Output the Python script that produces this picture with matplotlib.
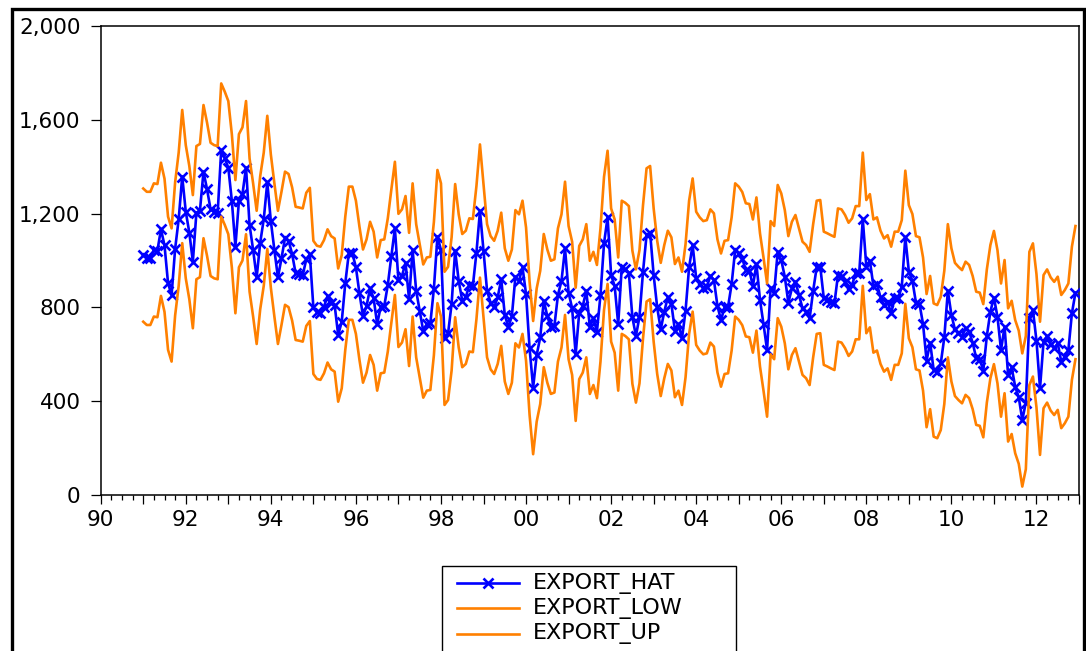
import matplotlib
matplotlib.use("Agg")
import matplotlib.pyplot as plt
from matplotlib.patches import Rectangle
from matplotlib.lines import Line2D
from matplotlib.ticker import FixedLocator, FuncFormatter

# Monthly export forecast with its lower / upper bands, Jan 1991 onwards
start_year = 1991
export_hat = [
    1023, 1009, 1009, 1045, 1042, 1133, 1065, 903, 853, 1050, 1176, 1358,
    1208, 1119, 995, 1204, 1213, 1379, 1304, 1218, 1208, 1204, 1471, 1436,
    1396, 1254, 1059, 1255, 1284, 1396, 1151, 1045, 928, 1076, 1176, 1333,
    1168, 1045, 928, 1009, 1095, 1085, 1028, 945, 942, 938, 1005, 1026,
    800, 779, 775, 803, 849, 820, 810, 682, 739, 903, 1031, 1031,
    971, 860, 763, 806, 881, 839, 729, 803, 806, 896, 1019, 1137,
    915, 934, 991, 834, 1045, 871, 785, 699, 729, 732, 880, 1102,
    1045, 668, 689, 815, 1042, 913, 829, 843, 896, 893, 1033, 1211,
    1042, 871, 820, 800, 843, 920, 768, 715, 763, 931, 913, 971,
    857, 625, 458, 597, 672, 829, 763, 715, 721, 853, 913, 1052,
    863, 796, 600, 778, 806, 871, 715, 753, 697, 853, 1073, 1184,
    938, 891, 729, 971, 962, 948, 758, 678, 760, 952, 1109, 1119,
    938, 800, 706, 782, 843, 815, 701, 729, 668, 786, 971, 1066,
    924, 900, 884, 888, 934, 917, 806, 746, 800, 803, 900, 1045,
    1031, 1008, 960, 957, 891, 985, 832, 728, 618, 884, 863, 1038,
    1002, 931, 820, 881, 910, 853, 796, 782, 753, 871, 971, 974,
    839, 832, 824, 817, 938, 934, 910, 877, 896, 948, 948, 1176,
    974, 999, 891, 900, 843, 810, 824, 775, 839, 839, 888, 1099,
    952, 914, 820, 815, 729, 573, 650, 533, 526, 561, 672, 871,
    768, 706, 689, 675, 711, 697, 650, 583, 579, 530, 678, 782,
    842, 760, 618, 718, 512, 544, 462, 417, 320, 394, 753, 789,
    658, 455, 654, 678, 644, 625, 647, 569, 590, 618, 775, 863,
]
export_low = [
    739, 725, 725, 761, 758, 849, 781, 619, 569, 766, 892, 1074,
    924, 835, 711, 920, 929, 1095, 1020, 934, 924, 920, 1187, 1152,
    1112, 970, 775, 971, 1000, 1112, 867, 761, 644, 792, 892, 1049,
    884, 761, 644, 725, 811, 801, 744, 661, 658, 654, 721, 742,
    516, 495, 491, 519, 565, 536, 526, 398, 455, 619, 747, 747,
    687, 576, 479, 522, 597, 555, 445, 519, 522, 612, 735, 853,
    631, 650, 707, 550, 761, 587, 501, 415, 445, 448, 596, 818,
    761, 384, 405, 531, 758, 629, 545, 559, 612, 609, 749, 927,
    758, 587, 536, 516, 559, 636, 484, 431, 479, 647, 629, 687,
    573, 341, 174, 313, 388, 545, 479, 431, 437, 569, 629, 768,
    579, 512, 316, 494, 522, 587, 431, 469, 413, 569, 789, 900,
    654, 607, 445, 687, 678, 664, 474, 394, 476, 668, 825, 835,
    654, 516, 422, 498, 559, 531, 417, 445, 384, 502, 687, 782,
    640, 616, 600, 604, 650, 633, 522, 462, 516, 519, 616, 761,
    747, 724, 676, 673, 607, 701, 548, 444, 334, 600, 579, 754,
    718, 647, 536, 597, 626, 569, 512, 498, 469, 587, 687, 690,
    555, 548, 540, 533, 654, 650, 626, 593, 612, 664, 664, 892,
    690, 715, 607, 616, 559, 526, 540, 491, 555, 555, 604, 815,
    668, 630, 536, 531, 445, 289, 366, 249, 242, 277, 388, 587,
    484, 422, 405, 391, 427, 413, 366, 299, 295, 246, 394, 498,
    558, 476, 334, 434, 228, 260, 178, 133, 36, 110, 469, 505,
    374, 171, 370, 394, 360, 341, 363, 285, 306, 334, 491, 579,
]
export_up = [
    1307, 1293, 1293, 1329, 1326, 1417, 1349, 1187, 1137, 1334, 1460, 1642,
    1492, 1403, 1279, 1488, 1497, 1663, 1588, 1502, 1492, 1488, 1755, 1720,
    1680, 1538, 1343, 1539, 1568, 1680, 1435, 1329, 1212, 1360, 1460, 1617,
    1452, 1329, 1212, 1293, 1379, 1369, 1312, 1229, 1226, 1222, 1289, 1310,
    1084, 1063, 1059, 1087, 1133, 1104, 1094, 966, 1023, 1187, 1315, 1315,
    1255, 1144, 1047, 1090, 1165, 1123, 1013, 1087, 1090, 1180, 1303, 1421,
    1199, 1218, 1275, 1118, 1329, 1155, 1069, 983, 1013, 1016, 1164, 1386,
    1329, 952, 973, 1099, 1326, 1197, 1113, 1127, 1180, 1177, 1317, 1495,
    1326, 1155, 1104, 1084, 1127, 1204, 1052, 999, 1047, 1215, 1197, 1255,
    1141, 909, 742, 881, 956, 1113, 1047, 999, 1005, 1137, 1197, 1336,
    1147, 1080, 884, 1062, 1090, 1155, 999, 1037, 981, 1137, 1357, 1468,
    1222, 1175, 1013, 1255, 1246, 1232, 1042, 962, 1044, 1236, 1393, 1403,
    1222, 1084, 990, 1066, 1127, 1099, 985, 1013, 952, 1070, 1255, 1350,
    1208, 1184, 1168, 1172, 1218, 1201, 1090, 1030, 1084, 1087, 1184, 1329,
    1315, 1292, 1244, 1241, 1175, 1269, 1116, 1012, 902, 1168, 1147, 1322,
    1286, 1215, 1104, 1165, 1194, 1137, 1080, 1066, 1037, 1155, 1255, 1258,
    1123, 1116, 1108, 1101, 1222, 1218, 1194, 1161, 1180, 1232, 1232, 1460,
    1258, 1283, 1175, 1184, 1127, 1094, 1108, 1059, 1123, 1123, 1172, 1383,
    1236, 1198, 1104, 1099, 1013, 857, 934, 817, 810, 845, 956, 1155,
    1052, 990, 973, 959, 995, 981, 934, 867, 863, 814, 962, 1066,
    1126, 1044, 902, 1002, 796, 828, 746, 701, 604, 678, 1037, 1073,
    942, 739, 938, 962, 928, 909, 931, 853, 874, 902, 1059, 1147,
]
series_names = ["EXPORT_HAT", "EXPORT_LOW", "EXPORT_UP"]
y_ticks = [0, 400, 800, 1200, 1600, 2000]
x_range = (1990, 2013)

BLUE = "#0000FF"
ORANGE = "#FF8000"
FS_TICK = 15.5
FS_LEG = 16

W, H = 1086, 651
plt.rcParams["font.family"] = ["DejaVu Sans"]
fig = plt.figure(figsize=(W / 100, H / 100), dpi=100)
fig.patch.set_facecolor("white")


def fx(px):
    return px / W


def fy(py):
    return 1 - py / H


# plot area in pixel terms
left, right, top, bottom = 100.7, 1079.0, 26.0, 495.0
ax = fig.add_axes([fx(left), fy(bottom), fx(right - left), (bottom - top) / H])

t = [start_year + i / 12 for i in range(len(export_hat))]

ax.plot(t, export_hat, color=BLUE, lw=1.9, marker="x", ms=7, mew=1.9,
        label=series_names[0], zorder=3)
ax.plot(t, export_low, color=ORANGE, lw=1.9, label=series_names[1], zorder=4)
ax.plot(t, export_up, color=ORANGE, lw=1.9, label=series_names[2], zorder=4)

ax.set_xlim(*x_range)
ax.set_ylim(0, 2000)

for s in ax.spines.values():
    s.set_color("black")
    s.set_linewidth(1.1)

ax.yaxis.set_major_locator(FixedLocator(y_ticks))
ax.yaxis.set_major_formatter(FuncFormatter(lambda v, p: f"{int(v):,}"))
years = list(range(x_range[0], x_range[1] + 1))
ax.xaxis.set_major_locator(FixedLocator(years))
ax.xaxis.set_minor_locator(FixedLocator(
    [y + q / 4 for y in years[:-1] for q in (1, 2, 3)]))
ax.xaxis.set_major_formatter(FuncFormatter(
    lambda v, p: f"{int(round(v)) % 100:02d}" if int(round(v)) % 2 == 0 else ""))

ax.tick_params(axis="y", which="major", direction="out", length=7.5, width=0.9,
               pad=7, labelsize=FS_TICK)
ax.tick_params(axis="x", which="major", direction="out", length=6.5, width=0.9,
               pad=4, labelsize=FS_TICK)
ax.tick_params(axis="x", which="minor", direction="out", length=3.6, width=0.9)
ax.tick_params(right=False, top=False)

# outer frame
fig.add_artist(Rectangle((fx(11.5), -0.2), fx(1083.5 - 11.5), 1.2 - 8.5 / H,
                         transform=fig.transFigure, fill=False, ec="black",
                         lw=2.4, clip_on=False))

# legend box, drawn in figure pixel positions
fig.add_artist(Rectangle((fx(441.7), -0.1), fx(736 - 441.7), 0.1 + fy(565.7),
                         transform=fig.transFigure, fill=False, ec="black",
                         lw=1.0, clip_on=False))
rows = [583.3, 608.3, 634.0]
styles = [dict(color=BLUE, lw=1.9), dict(color=ORANGE, lw=1.9),
          dict(color=ORANGE, lw=1.9)]
for name, yy, st in zip(series_names, rows, styles):
    fig.add_artist(Line2D([fx(457), fx(519)], [fy(yy), fy(yy)],
                          transform=fig.transFigure, **st))
    fig.text(fx(533), fy(yy), name, fontsize=FS_LEG, va="center", ha="left")
fig.add_artist(Line2D([fx(488)], [fy(rows[0])], transform=fig.transFigure,
                      marker="x", ms=7, mew=1.9, color=BLUE, ls="none"))

fig.savefig("out.png", dpi=100)
